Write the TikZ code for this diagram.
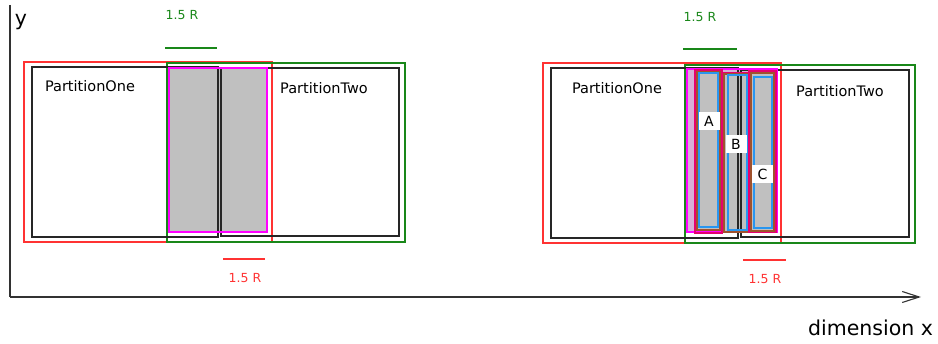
\documentclass[tikz,border=0pt]{standalone}
\usepackage{fontspec}
\setmainfont{DejaVu Sans}
\usetikzlibrary{arrows.meta}
\definecolor{rangered}{RGB}{255,50,50}
\definecolor{rangegreen}{RGB}{25,135,25}
\definecolor{ghostmag}{RGB}{255,0,255}
\definecolor{cellpink}{RGB}{230,0,110}
\definecolor{cellbrown}{RGB}{160,82,45}
\definecolor{cellblue}{RGB}{40,150,240}
\definecolor{cellgray}{RGB}{192,192,192}
\definecolor{lavender}{RGB}{215,175,215}
\definecolor{axisgray}{RGB}{50,50,50}
\tikzset{
  axisline/.style={draw=axisgray, line width=1.3pt},
  partbox/.style={draw=black!85, line width=1.2pt},
  redbox/.style={draw=rangered, line width=1.2pt},
  greenbox/.style={draw=rangegreen, line width=1.2pt},
  ghostbox/.style={draw=ghostmag, line width=1.2pt},
  pinkbox/.style={draw=cellpink, line width=1.1pt},
  brownbox/.style={draw=cellbrown, line width=1.1pt},
  bluebox/.style={draw=cellblue, line width=1.1pt},
  parttext/.style={font=\fontsize{14.5}{16}\selectfont, inner sep=0pt},
  dimtext/.style={font=\fontsize{12.5}{14}\selectfont, inner sep=0pt},
  cellname/.style={fill=white, font=\fontsize{14}{16}\selectfont, minimum width=21pt, minimum height=18pt, inner sep=0pt},
  axistext/.style={font=\fontsize{20.5}{22}\selectfont, inner sep=0pt}
}
\begin{document}
\begin{tikzpicture}[x=1pt, y=-1pt]
\useasboundingbox (0,0) rectangle (938,344);

% axes
\coordinate (origin) at (10,297);
\coordinate (ytop) at (10,5);
\coordinate (xend) at (921,297);
\draw[axisline] (ytop) -- (origin);
\draw[axisline, -{Straight Barb[length=17pt, width=11pt, line width=1.1pt]}] (origin) -- (xend);
\node[axistext] (ylabel) at (21,22) {y};
\node[axistext, anchor=base] (xlabel) at (870.5,336) {dimension x};

% ---------- left case: two halo regions ----------
\draw[redbox]   (24,62) rectangle (272,242);
\draw[greenbox] (167,63) rectangle (405,242);
\fill[cellgray] (169,68) rectangle (267,232);
\draw[partbox]  (32,67) rectangle (218,237);
\draw[partbox]  (221,68) rectangle (399,236);
\draw[ghostbox] (169,68) rectangle (267,232);

\node[parttext] (oneL) at (90,86) {PartitionOne};
\node[parttext] (twoL) at (324,88) {PartitionTwo};

\draw[rangegreen, line width=1.2pt] (165,48) -- (217,48);
\node[dimtext, text=rangegreen] (gL) at (182,15) {1.5 R};
\draw[rangered, line width=1.2pt] (223,259) -- (265,259);
\node[dimtext, text=rangered] (rL) at (245,278) {1.5 R};

% ---------- right case: three cells in the overlap ----------
\draw[redbox]   (543,63) rectangle (781,243);
\draw[greenbox] (685,65) rectangle (915,243);
\fill[lavender] (687,69) rectangle (777,232);
\fill[cellgray] (695,70) rectangle (722,233);
\fill[cellgray] (722,73) rectangle (749,232);
\fill[cellgray] (749,71) rectangle (776,232);
\draw[partbox]  (551,68) rectangle (738,238);
\draw[partbox]  (741,70) rectangle (909,237);
\draw[ghostbox] (687,69) rectangle (777,232);

\draw[pinkbox]  (695,70) rectangle (722,233);
\draw[pinkbox]  (722,73) rectangle (749,232);
\draw[pinkbox]  (749,71) rectangle (776,232);
\draw[brownbox] (697,72) rectangle (720,230);
\draw[brownbox] (724,74) rectangle (747,232);
\draw[brownbox] (751,73) rectangle (774,231);
\draw[bluebox]  (699,73) rectangle (718,227);
\draw[bluebox]  (728,75) rectangle (747,230);
\draw[bluebox]  (754,77) rectangle (772,228);

\node[cellname] (A) at (709,121) {A};
\node[cellname] (B) at (736,144) {B};
\node[cellname] (C) at (762.5,174.5) {C};

\node[parttext] (oneR) at (617,88.5) {PartitionOne};
\node[parttext] (twoR) at (840,91) {PartitionTwo};

\draw[rangegreen, line width=1.2pt] (683,49) -- (737,49);
\node[dimtext, text=rangegreen] (gR) at (700,17) {1.5 R};
\draw[rangered, line width=1.2pt] (743,260) -- (786,260);
\node[dimtext, text=rangered] (rR) at (765,279.5) {1.5 R};
\end{tikzpicture}
\end{document}
